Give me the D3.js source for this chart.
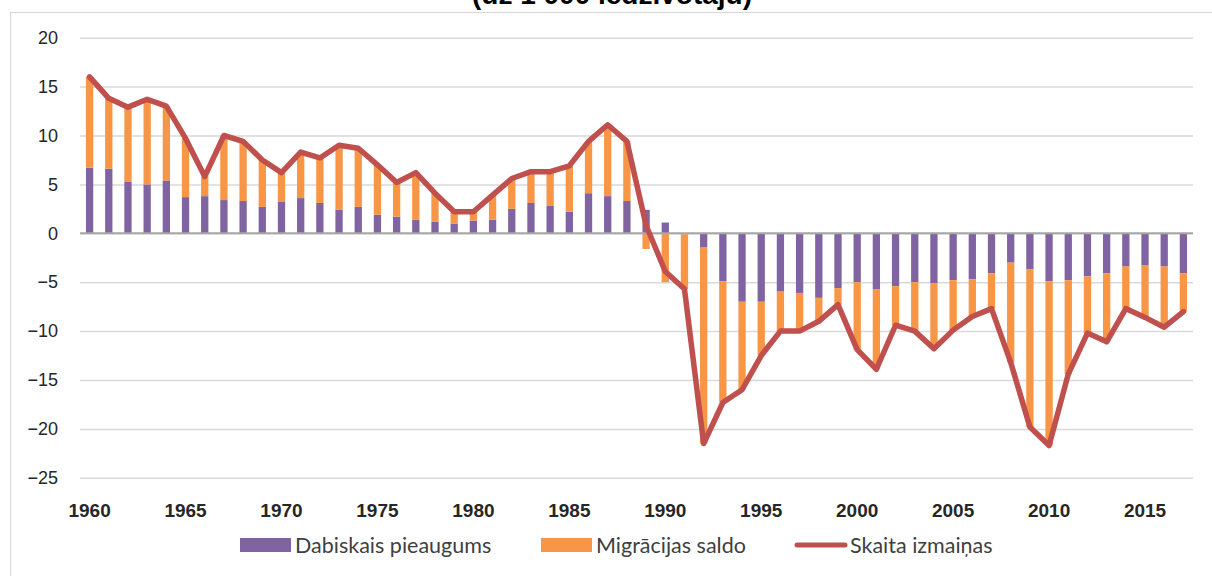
<!DOCTYPE html>
<html>
<head>
<meta charset="utf-8">
<script src="https://cdn.jsdelivr.net/npm/d3@7"></script>
<style>
  body { margin: 0; background: #fff; }
  .axis text { font-family: "Liberation Sans", Arial, sans-serif; fill: #262626; }
  .axis--y text { font-size: 18px; }
  .axis--x text { font-size: 19px; font-weight: bold; }
  .grid line { stroke: #d9d9d9; stroke-width: 1.5; }
  .grid path { display: none; }
  .legend text { font-family: Lato, "Open Sans", sans-serif; font-size: 21.5px; fill: #404040; }
</style>
</head>
<body>
<svg width="1212" height="576"></svg>
<script>
// data: births minus deaths, net migration, total change (per 1 000 inhabitants)
var years = d3.range(1960, 2018);

var natural = [
  6.7, 6.6, 5.3, 5.0, 5.4, 3.7, 3.8, 3.4, 3.3, 2.7,
  3.2, 3.6, 3.1, 2.4, 2.7, 1.9, 1.7, 1.4, 1.2, 1.0,
  1.3, 1.4, 2.5, 3.1, 2.8, 2.2, 4.1, 3.8, 3.3, 2.4,
  1.1, -0.1, -1.4, -4.9, -7.0, -7.0, -5.9, -6.1, -6.6, -5.6,
  -5.0, -5.7, -5.4, -5.0, -5.1, -4.8, -4.7, -4.1, -3.0, -3.7,
  -4.9, -4.8, -4.4, -4.1, -3.4, -3.3, -3.4, -4.1
];

var migration = [
  9.3, 7.2, 7.6, 8.7, 7.6, 6.0, 2.0, 6.6, 6.1, 4.8,
  3.0, 4.7, 4.6, 6.6, 6.0, 5.1, 3.5, 4.8, 2.9, 1.2,
  0.9, 2.5, 3.1, 3.2, 3.5, 4.7, 5.3, 7.3, 6.1, -1.6,
  -5.0, -5.6, -20.1, -12.4, -9.0, -5.5, -4.1, -3.9, -2.4, -1.7,
  -6.9, -8.2, -4.0, -5.0, -6.7, -5.1, -3.8, -3.6, -10.2, -16.1,
  -16.8, -9.6, -5.8, -7.0, -4.3, -5.3, -6.2, -3.9
];

var total = [
  16.0, 13.8, 12.9, 13.7, 13.0, 9.7, 5.8, 10.0, 9.4, 7.5,
  6.2, 8.3, 7.7, 9.0, 8.7, 7.0, 5.2, 6.2, 4.1, 2.2,
  2.2, 3.9, 5.6, 6.3, 6.3, 6.9, 9.4, 11.1, 9.4, 0.8,
  -3.9, -5.7, -21.5, -17.3, -16.0, -12.5, -10.0, -10.0, -9.0, -7.3,
  -11.9, -13.9, -9.4, -10.0, -11.8, -9.9, -8.5, -7.7, -13.2, -19.8,
  -21.7, -14.4, -10.2, -11.1, -7.7, -8.6, -9.6, -8.0
];

var yTicks = d3.range(-25, 21, 5);
var xTicks = years.filter(function(d) { return d % 5 === 0; });

var seriesNames = ["Dabiskais pieaugums", "Migrācijas saldo", "Skaita izmaiņas"];
var colors = ["#8064a2", "#f79646", "#c0504d"];

var svg = d3.select("svg"),
    margin = {top: 37.7, right: 19, bottom: 98.2, left: 80},
    w = +svg.attr("width") - margin.left - margin.right,
    h = +svg.attr("height") - margin.top - margin.bottom;

// outer chart frame
svg.append("rect")
  .attr("x", 10.5).attr("y", 12.5)
  .attr("width", 1220).attr("height", 600)
  .attr("fill", "none")
  .attr("stroke", "#d9d9d9")
  .attr("stroke-width", 1.2);

// title (first line sits above the visible area, as in the source)
svg.append("text")
  .attr("x", 612).attr("y", 4)
  .attr("text-anchor", "middle")
  .style("font-family", "Liberation Sans, Arial, sans-serif")
  .style("font-size", "28px")
  .style("font-weight", "bold")
  .attr("fill", "#000")
  .text("(uz 1 000 iedzīvotāju)");

var x = d3.scaleBand().domain(years).range([0, w]).paddingInner(0.62).paddingOuter(0.31),
    y = d3.scaleLinear().domain([-25, 20]).range([h, 0]);

var g = svg.append("g")
  .attr("transform", "translate(" + margin.left + "," + margin.top + ")");

// gridlines
g.append("g")
  .attr("class", "grid")
  .call(d3.axisLeft(y).tickValues(yTicks).tickFormat("").tickSize(-w));

// stacked bars (positive and negative parts stack separately)
var rows = years.map(function(yr, i) {
  return {year: yr, nat: natural[i], mig: migration[i]};
});
var stack = d3.stack().keys(["nat", "mig"]).offset(d3.stackOffsetDiverging);
var layers = stack(rows);

g.selectAll(".layer")
  .data(layers)
  .enter().append("g")
  .attr("class", "layer")
  .attr("fill", function(d, i) { return colors[i]; })
  .selectAll("rect")
  .data(function(d) { return d; })
  .enter().append("rect")
  .attr("x", function(d) { return x(d.data.year); })
  .attr("width", x.bandwidth())
  .attr("y", function(d) { return y(Math.max(d[0], d[1])); })
  .attr("height", function(d) { return Math.abs(y(d[0]) - y(d[1])); });

// zero line
g.append("line")
  .attr("x1", 0).attr("x2", w)
  .attr("y1", y(0)).attr("y2", y(0))
  .attr("stroke", "#a6a6a6")
  .attr("stroke-width", 2);

// total change line
var line = d3.line()
  .x(function(d, i) { return x(years[i]) + x.bandwidth() / 2; })
  .y(function(d) { return y(d); });

g.append("path")
  .datum(total)
  .attr("fill", "none")
  .attr("stroke", colors[2])
  .attr("stroke-width", 5.5)
  .attr("stroke-linejoin", "round")
  .attr("stroke-linecap", "round")
  .attr("d", line);

// axes
g.append("g")
  .attr("class", "axis axis--y")
  .call(d3.axisLeft(y).tickValues(yTicks).tickSize(0).tickPadding(22))
  .call(function(a) { a.select(".domain").remove(); });

g.append("g")
  .attr("class", "axis axis--x")
  .attr("transform", "translate(0," + h + ")")
  .call(d3.axisBottom(x).tickValues(xTicks).tickSize(0).tickPadding(26))
  .call(function(a) { a.select(".domain").remove(); });

// legend
var legendX = [240, 541, 795];
var legend = svg.append("g").attr("class", "legend");
seriesNames.forEach(function(name, i) {
  var item = legend.append("g").attr("transform", "translate(" + legendX[i] + ",545)");
  if (i < 2) {
    item.append("rect")
      .attr("x", 0).attr("y", -7)
      .attr("width", 51).attr("height", 14)
      .attr("fill", colors[i]);
  } else {
    item.append("line")
      .attr("x1", 2).attr("x2", 50)
      .attr("stroke", colors[i])
      .attr("stroke-width", 5)
      .attr("stroke-linecap", "round");
  }
  item.append("text")
    .attr("x", 55).attr("y", 7.5)
    .text(name);
});
</script>
</body>
</html>
